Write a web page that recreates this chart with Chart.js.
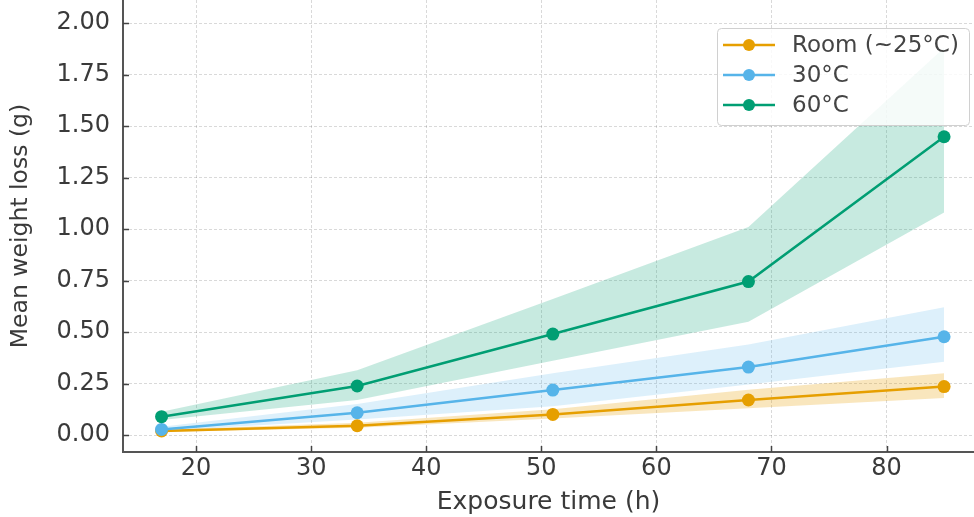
<!DOCTYPE html>
<html>
<head>
<meta charset="utf-8">
<script src="https://cdn.jsdelivr.net/npm/chart.js@4"></script>
<style>
  html, body { margin: 0; padding: 0; background: #fff; }
  #wrap { width: 974px; height: 517px; }
</style>
</head>
<body>
<div id="wrap"><canvas id="lossChart" width="974" height="517"></canvas></div>
<script>
// exposure times (h)
const hours = [17, 34, 51, 68, 85];

// mean weight loss (g) and shaded band limits
const roomMean = [0.02, 0.045, 0.10, 0.17, 0.235];
const roomLow  = [0.015, 0.035, 0.08, 0.13, 0.18];
const roomHigh = [0.025, 0.06, 0.125, 0.22, 0.30];

const c30Mean = [0.027, 0.108, 0.218, 0.33, 0.477];
const c30Low  = [0.02, 0.075, 0.14, 0.245, 0.356];
const c30High = [0.04, 0.15, 0.30, 0.44, 0.62];

const c60Mean = [0.089, 0.238, 0.49, 0.745, 1.448];
const c60Low  = [0.073, 0.17, 0.36, 0.55, 1.08];
const c60High = [0.113, 0.315, 0.66, 1.01, 1.88];

const seriesLabels = ["Room (~25°C)", "30°C", "60°C"];
const xTicks = [20, 30, 40, 50, 60, 70, 80];
const yTicks = [0, 0.25, 0.5, 0.75, 1.0, 1.25, 1.5, 1.75, 2.0];

const ORANGE = '#E69F00', BLUE = '#56B4E9', GREEN = '#009E73';
const FONT = "'DejaVu Sans', sans-serif";

function pts(vals) {
    return hours.map((h, i) => ({ x: h, y: vals[i] }));
}

function lineSet(label, vals, color) {
    return {
        label: label, data: pts(vals),
        borderColor: color, backgroundColor: color,
        borderWidth: 2.5, pointRadius: 6.5, pointHoverRadius: 6.5,
        pointBorderWidth: 0, pointBackgroundColor: color, fill: false
    };
}

function bandSet(vals, fill, bg) {
    return {
        label: '', data: pts(vals), borderWidth: 0, borderColor: 'rgba(0,0,0,0)',
        pointRadius: 0, backgroundColor: bg, fill: fill
    };
}

// inward tick marks on the left and bottom spines
const tickMarks = {
    id: 'tickMarks',
    afterDraw(chart) {
        const ctx = chart.ctx, xs = chart.scales.x, ys = chart.scales.y;
        const area = chart.chartArea;
        ctx.save();
        ctx.strokeStyle = '#444';
        ctx.lineWidth = 1.5;
        ctx.beginPath();
        xTicks.forEach(v => {
            const px = Math.round(xs.getPixelForValue(v)) + 0.5;
            ctx.moveTo(px, area.bottom); ctx.lineTo(px, area.bottom - 6);
        });
        yTicks.forEach(v => {
            const py = Math.round(ys.getPixelForValue(v)) + 0.5;
            ctx.moveTo(area.left, py); ctx.lineTo(area.left + 6, py);
        });
        ctx.stroke();
        ctx.restore();
    }
};

// legend box inside the plot, upper right
const boxLegend = {
    id: 'boxLegend',
    afterDatasetsDraw(chart) {
        const ctx = chart.ctx;
        const colors = [ORANGE, BLUE, GREEN];
        const bx = 717, by = 28, bw = 252, bh = 97;
        ctx.save();
        ctx.fillStyle = 'rgba(255,255,255,0.82)';
        ctx.strokeStyle = '#d0d0d0';
        ctx.lineWidth = 1;
        ctx.beginPath();
        ctx.roundRect(bx + 0.5, by + 0.5, bw, bh, 4);
        ctx.fill();
        ctx.stroke();
        ctx.font = "23px " + FONT;
        ctx.textBaseline = 'middle';
        seriesLabels.forEach((lab, i) => {
            const y = by + 17 + i * 30;
            ctx.strokeStyle = colors[i];
            ctx.lineWidth = 2.5;
            ctx.beginPath();
            ctx.moveTo(723, y); ctx.lineTo(775, y);
            ctx.stroke();
            ctx.fillStyle = colors[i];
            ctx.beginPath();
            ctx.arc(749, y, 6, 0, Math.PI * 2);
            ctx.fill();
            ctx.fillStyle = '#444';
            ctx.fillText(lab, 792, y + 1);
        });
        ctx.restore();
    }
};

function keepTicks(list) {
    return function(scale) {
        scale.ticks = list.map(v => ({ value: v }));
    };
}

const ctx = document.getElementById('lossChart').getContext('2d');

const myChart = new Chart(ctx, {
    type: 'line',
    data: {
        datasets: [
            lineSet(seriesLabels[2], c60Mean, GREEN),
            lineSet(seriesLabels[1], c30Mean, BLUE),
            lineSet(seriesLabels[0], roomMean, ORANGE),
            bandSet(c60High, false, 'rgba(0,158,115,0.22)'),
            bandSet(c60Low, '-1', 'rgba(0,158,115,0.22)'),
            bandSet(c30High, false, 'rgba(86,180,233,0.2)'),
            bandSet(c30Low, '-1', 'rgba(86,180,233,0.2)'),
            bandSet(roomHigh, false, 'rgba(230,159,0,0.26)'),
            bandSet(roomLow, '-1', 'rgba(230,159,0,0.26)')
        ]
    },
    options: {
        responsive: false,
        animation: false,
        layout: { padding: 0, autoPadding: false },
        plugins: {
            legend: { display: false },
            tooltip: { enabled: false }
        },
        scales: {
            x: {
                type: 'linear',
                min: 13.65,
                max: 87.6,
                afterBuildTicks: keepTicks(xTicks),
                afterFit(scale) { scale.height = 65; scale.paddingLeft = 0; scale.paddingRight = 0; },
                grid: { color: 'rgba(0,0,0,0.15)', lineWidth: 1, drawTicks: false },
                border: { color: '#555', width: 2, dash: [3, 2] },
                ticks: {
                    padding: 2,
                    color: '#3a3a3a',
                    font: { family: FONT, size: 24 },
                    callback: v => String(v)
                },
                title: {
                    display: true,
                    text: 'Exposure time (h)',
                    color: '#3a3a3a',
                    font: { family: FONT, size: 25 },
                    padding: { top: 0, bottom: 0 }
                }
            },
            y: {
                min: -0.0825,
                max: 2.112,
                afterBuildTicks: keepTicks(yTicks),
                afterFit(scale) { scale.width = 123; scale.paddingTop = 0; scale.paddingBottom = 0; },
                grid: { color: 'rgba(0,0,0,0.15)', lineWidth: 1, drawTicks: false },
                border: { color: '#555', width: 2, dash: [3, 2] },
                ticks: {
                    padding: 13,
                    color: '#3a3a3a',
                    font: { family: FONT, size: 24 },
                    callback: v => v.toFixed(2)
                },
                title: {
                    display: true,
                    text: 'Mean weight loss (g)',
                    color: '#3a3a3a',
                    font: { family: FONT, size: 23.5 },
                    padding: { top: 7, bottom: 0 }
                }
            }
        }
    },
    plugins: [tickMarks, boxLegend]
});
</script>
</body>
</html>
